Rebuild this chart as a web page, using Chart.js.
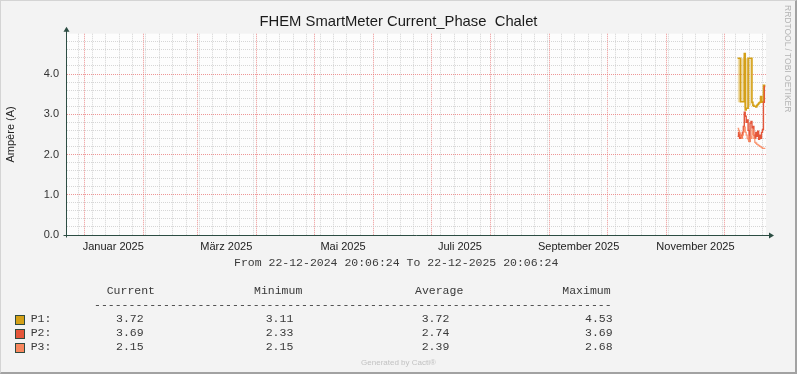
<!DOCTYPE html>
<html>
<head>
<meta charset="utf-8">
<title>FHEM SmartMeter Current_Phase Chalet</title>
<script src="https://cdn.jsdelivr.net/npm/chart.js@4.4.1/dist/chart.umd.min.js"></script>
<style>
  body { margin: 0; background: #fff; }
  #wrap { position: relative; width: 797px; height: 374px; background: #F3F3F3; overflow: hidden; }
  #graph { position: absolute; left: 0; top: 0; }
  #frame { position: absolute; left: 0; top: 0; right: 0; bottom: 0; border-style: solid; border-width: 1px 2px 2px 1px;
           border-color: #D4D4D4 #A2A2A2 #A2A2A2 #D4D4D4; pointer-events: none; }
  .mono { position: absolute; font-family: "Liberation Mono", monospace; font-size: 11.5px; line-height: 14px; color: #3A3A3A; white-space: pre; }
  .box { position: absolute; width: 8px; height: 8px; border: 1px solid #2F4A40; }
  .credit { position: absolute; left: 0; width: 797px; text-align: center; font-family: "Liberation Sans", sans-serif; font-size: 8px; line-height: 10px; color: #C2C2C2; }
  .side { position: absolute; writing-mode: vertical-rl; font-family: "Liberation Sans", sans-serif; font-size: 8.5px; line-height: 10px; color: #B4B4B4; white-space: pre; }
</style>
</head>
<body>
<div id="wrap">
  <canvas id="graph" width="797" height="374"></canvas>
  <div id="frame"></div>
</div>
<script>
// time range of the graph (one year)
const rangeStart = '2024-12-22 20:06:24';
const rangeEnd = '2025-12-22 20:06:24';

// samples every 12 hours, each value holds until the next sample
const sampleTimes = [
  '2025-12-08 00:00', '2025-12-08 12:00', '2025-12-09 00:00', '2025-12-09 12:00', '2025-12-10 00:00',
  '2025-12-10 12:00', '2025-12-11 00:00', '2025-12-11 12:00', '2025-12-12 00:00', '2025-12-12 12:00',
  '2025-12-13 00:00', '2025-12-13 12:00', '2025-12-14 00:00', '2025-12-14 12:00', '2025-12-15 00:00',
  '2025-12-15 12:00', '2025-12-16 00:00', '2025-12-16 12:00', '2025-12-17 00:00', '2025-12-17 12:00',
  '2025-12-18 00:00', '2025-12-18 12:00', '2025-12-19 00:00', '2025-12-19 12:00', '2025-12-20 00:00',
  '2025-12-20 12:00', '2025-12-21 00:00', '2025-12-21 12:00', '2025-12-22 00:00', '2025-12-22 12:00'
];
const p1Values = [4.39, 4.39, 4.39, 3.31, 3.31, 3.31, 3.31, 4.51, 3.11, 3.15, 3.15, 4.39, 4.39, 4.39, 4.39,
                  3.30, 3.22, 3.20, 3.20, 3.18, 3.22, 3.25, 3.28, 3.30, 3.44, 3.30, 3.31, 3.72, 3.72, 3.72];
const p2Values = [2.45, 2.55, 2.40, 2.48, 2.42, 2.55, 2.70, 3.05, 2.95, 2.80, 2.86, 2.60, 2.33, 2.78, 2.82,
                  2.66, 2.70, 2.48, 2.40, 2.55, 2.45, 2.58, 2.38, 2.48, 2.40, 2.55, 2.62, 3.30, 3.69, 3.69];
const p3Values = [2.65, 2.60, 2.53, 2.45, 2.40, 2.48, 2.57, 2.68, 2.55, 2.48, 2.40, 2.37, 2.32, 2.45, 2.40,
                  2.62, 2.50, 2.40, 2.30, 2.28, 2.25, 2.24, 2.22, 2.20, 2.19, 2.17, 2.15, 2.15, 2.15, 2.15];
// spread of P1 inside each sample (light band behind the line)
const p1BandHigh = [4.39, 4.39, 4.39, 4.39, 4.39, 4.39, 4.39, 4.51, 4.39, 4.39, 4.39, 4.39, 4.39, 4.39, 4.39, 4.39];
const p1BandLow  = [3.30, 3.30, 3.30, 3.31, 3.31, 3.31, 3.31, 3.15, 3.11, 3.15, 3.15, 3.20, 3.20, 3.22, 3.25, 3.30];

// axis labels
const monthLabels = ['Januar 2025', 'März 2025', 'Mai 2025', 'Juli 2025', 'September 2025', 'November 2025'];
const monthLabelDates = ['2025-01-16', '2025-03-16', '2025-05-16', '2025-07-16', '2025-09-16', '2025-11-16'];

// legend table
const seriesNames = ['P1:', 'P2:', 'P3:'];
const legendHeaders = ['Current', 'Minimum', 'Average', 'Maximum'];
const currentValues = ['3.72', '3.69', '2.15'];
const minimumValues = ['3.11', '2.33', '2.15'];
const averageValues = ['3.72', '2.74', '2.39'];
const maximumValues = ['4.53', '3.69', '2.68'];

const seriesColors = ['#D4A017', '#E4563A', '#F8875E'];

function toMs(s) {
  const [d, t = '00:00:00'] = s.split(' ');
  const [Y, M, D] = d.split('-').map(Number);
  const [h, m, sec = 0] = t.split(':').map(Number);
  return Date.UTC(Y, M - 1, D, h, m, sec);
}

const xMin = toMs(rangeStart);
const xMax = toMs(rangeEnd);
const DAY = 86400000;

// monthly (red) and weekly (grey) vertical grid lines
const monthStarts = [];
for (let m = 0; m < 12; m++) monthStarts.push(Date.UTC(2025, m, 1));
const weekLines = [];
for (let t = Date.UTC(2024, 11, 29); t < xMax; t += 7 * DAY) weekLines.push(t);
const monthSet = new Set(monthStarts);
const gridTicks = [...new Set([...weekLines, ...monthStarts])].sort((a, b) => a - b);

const points = (vals) => vals.map((v, i) => ({ x: toMs(sampleTimes[i]), y: v }));

const isWhole = v => Math.abs(v - Math.round(v)) < 1e-6;
const majorGrid = 'rgba(232,115,115,0.75)';
const minorGrid = 'rgba(200,200,200,0.75)';

const plotDecor = {
  id: 'plotDecor',
  beforeDraw(chart) {
    const { ctx, chartArea: a } = chart;
    ctx.save();
    ctx.fillStyle = '#FDFDFD';
    ctx.fillRect(a.left, a.top, a.right - a.left, a.bottom - a.top);
    ctx.restore();
  },
  afterDraw(chart) {
    const { ctx, chartArea: a } = chart;
    const ax = Math.round(a.left) - 0.5;
    const ay = Math.round(a.bottom) + 0.5;
    ctx.save();
    ctx.strokeStyle = '#2C4D43';
    ctx.fillStyle = '#2C4D43';
    ctx.lineWidth = 1;
    ctx.beginPath();
    ctx.moveTo(ax, ay + 2);
    ctx.lineTo(ax, a.top - 3);
    ctx.moveTo(ax - 3, ay);
    ctx.lineTo(a.right + 4, ay);
    ctx.stroke();
    // arrows
    ctx.beginPath();
    ctx.moveTo(ax, a.top - 7);
    ctx.lineTo(ax - 3, a.top - 2);
    ctx.lineTo(ax + 3, a.top - 2);
    ctx.closePath();
    ctx.fill();
    ctx.beginPath();
    ctx.moveTo(a.right + 8, ay);
    ctx.lineTo(a.right + 3, ay - 3);
    ctx.lineTo(a.right + 3, ay + 3);
    ctx.closePath();
    ctx.fill();
    ctx.restore();
  }
};

new Chart(document.getElementById('graph'), {
  type: 'line',
  data: {
    datasets: [
      { label: 'P1', data: points(p1Values), borderColor: seriesColors[0], borderWidth: 1.6, stepped: true, order: 2 },
      { label: 'P2', data: points(p2Values), borderColor: seriesColors[1], borderWidth: 1.4, stepped: true, order: 1 },
      { label: 'P3', data: points(p3Values), borderColor: 'rgba(248,135,94,0.85)', borderWidth: 1.3, stepped: true, order: 0 },
      { label: 'P1 band', data: points(p1BandHigh), borderWidth: 0, stepped: true, fill: '+1',
        backgroundColor: 'rgba(212,160,23,0.35)', order: 5 },
      { label: 'P1 band low', data: points(p1BandLow), borderWidth: 0, stepped: true, fill: false, order: 6 }
    ]
  },
  options: {
    responsive: false,
    devicePixelRatio: 1,
    animation: false,
    elements: { point: { radius: 0 } },
    layout: { padding: { left: 0, right: 0, top: 0, bottom: 117 } },
    plugins: {
      legend: { display: false },
      tooltip: { enabled: false },
      title: {
        display: true,
        text: 'FHEM SmartMeter Current_Phase  Chalet',
        color: '#1A1A1A',
        font: { family: 'Liberation Sans', size: 14.8, weight: 'normal' },
        padding: { top: 13, bottom: 3 }
      }
    },
    scales: {
      x: {
        type: 'linear',
        min: xMin,
        max: xMax,
        afterBuildTicks: s => { s.ticks = gridTicks.map(v => ({ value: v })); },
        afterFit: s => { s.height = 0; },
        ticks: { display: false },
        grid: {
          drawTicks: false,
          color: c => (c.tick && monthSet.has(c.tick.value)) ? majorGrid : minorGrid
        },
        border: { display: false, dash: [1, 1] }
      },
      x2: {
        type: 'linear',
        position: 'bottom',
        min: xMin,
        max: xMax,
        afterBuildTicks: s => { s.ticks = monthLabelDates.map(d => ({ value: toMs(d) })); },
        afterFit: s => { s.height = 22; },
        ticks: {
          autoSkip: false,
          maxRotation: 0,
          padding: 5,
          color: '#222',
          font: { family: 'Liberation Sans', size: 11 },
          callback: (v, i) => monthLabels[i]
        },
        grid: { display: false, drawTicks: false },
        border: { display: false }
      },
      y: {
        min: 0,
        max: 5,
        afterFit: s => { s.width = 67; },
        ticks: {
          stepSize: 0.2,
          autoSkip: false,
          padding: 8,
          color: '#333',
          font: { family: 'Liberation Sans', size: 11 },
          callback: v => (isWhole(v) && v < 5) ? v.toFixed(1) : ''
        },
        grid: {
          drawTicks: false,
          color: c => {
            if (!c.tick) return minorGrid;
            if (c.tick.value >= 5) return 'rgba(0,0,0,0)';
            return isWhole(c.tick.value) ? majorGrid : minorGrid;
          }
        },
        border: { display: false, dash: [1, 1] },
        title: {
          display: true,
          text: 'Ampère (A)',
          color: '#222',
          font: { family: 'Liberation Sans', size: 11 },
          padding: { top: 4, bottom: 0 }
        }
      },
      // empty right-hand box so the plot ends where the reference does
      yRight: {
        position: 'right',
        min: 0,
        max: 5,
        afterFit: s => { s.width = 31; },
        ticks: { display: false },
        grid: { display: false, drawTicks: false },
        border: { display: false }
      }
    }
  },
  plugins: [plotDecor]
});

// text below the graph
const wrap = document.getElementById('wrap');
function addText(cls, text, left, top) {
  const el = document.createElement('div');
  el.className = cls;
  el.textContent = text;
  if (left !== null) el.style.left = left + 'px';
  el.style.top = top + 'px';
  wrap.appendChild(el);
  return el;
}

const fmt = s => s.split(' ')[0].split('-').reverse().join('-') + ' ' + s.split(' ')[1];
addText('mono', 'From ' + fmt(rangeStart) + ' To ' + fmt(rangeEnd), 234, 255.6);

const headerLeft = [106.7, 254, 415, 562.3];
const valueLeft = [116, 265.7, 421.7, 585];
legendHeaders.forEach((h, i) => addText('mono', h, headerLeft[i], 284));
addText('mono', '-'.repeat(75), 94, 298);

seriesNames.forEach((name, r) => {
  const top = 312.2 + r * 14;
  const box = document.createElement('div');
  box.className = 'box';
  box.style.left = '15px';
  box.style.top = (315 + r * 14) + 'px';
  box.style.background = seriesColors[r];
  wrap.appendChild(box);
  addText('mono', name, 30.7, top);
  [currentValues, minimumValues, averageValues, maximumValues].forEach((col, c) => {
    addText('mono', col[r], valueLeft[c], top);
  });
});

addText('credit', 'Generated by Cacti®', null, 357.5);
addText('side', 'RRDTOOL / TOBI OETIKER', 783, 5);
</script>
</body>
</html>
